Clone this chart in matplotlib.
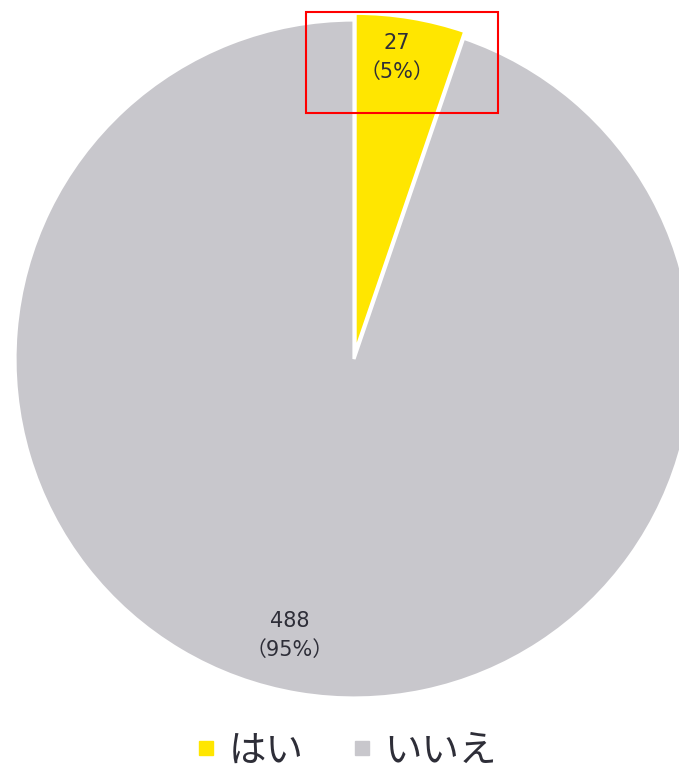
import matplotlib.pyplot as plt
from matplotlib.lines import Line2D
from matplotlib.patches import Rectangle

plt.rcParams['font.family'] = ['Noto Sans CJK JP', 'DejaVu Sans']

labels = ['はい', 'いいえ']
counts = [27, 488]
colors = ['#FFE600', '#C8C7CC']
text_color = '#2E2E38'


def main():
    fig = plt.figure(figsize=(6.79, 7.71), dpi=100)
    W, H = 679, 771
    cx, cy, r = 354, 359, 339
    lim = 1.1
    half = r * lim
    ax = fig.add_axes([(cx - half) / W, 1 - (cy + half) / H,
                       2 * half / W, 2 * half / H])

    total = sum(counts)
    ax.pie(counts, colors=colors, startangle=90, counterclock=False,
           explode=[0.02, 0], radius=1,
           wedgeprops=dict(edgecolor='white', linewidth=2.3))
    ax.set_xlim(-lim, lim)
    ax.set_ylim(-lim, lim)
    ax.set_aspect('equal')
    ax.axis('off')

    pos = [(0.127, 0.89), (-0.19, -0.815)]
    for (x, y), n in zip(pos, counts):
        pct = round(n / total * 100)
        ax.text(x, y, f'{n}\n（{pct}%）', ha='center', va='center',
                fontsize=15, color=text_color, linespacing=1.55,
                family=['DejaVu Sans', 'Noto Sans CJK JP'])

    handles = [Line2D([], [], marker='s', linestyle='', markersize=10,
                      markerfacecolor=c, markeredgecolor=c) for c in colors]
    fig.legend(handles, labels, loc='center', bbox_to_anchor=(0.505, 0.026),
               ncol=2, frameon=False, fontsize=27, handletextpad=0.15,
               columnspacing=1.1, labelcolor=text_color, handlelength=0.9)

    # highlight box around the small slice
    fig.patches.append(Rectangle((306 / W, 1 - 113 / H), 192 / W, 101 / H,
                                 transform=fig.transFigure, fill=False,
                                 edgecolor='#FF0000', linewidth=1.5))

    fig.savefig('out.png', dpi=100)


if __name__ == "__main__":
    main()
